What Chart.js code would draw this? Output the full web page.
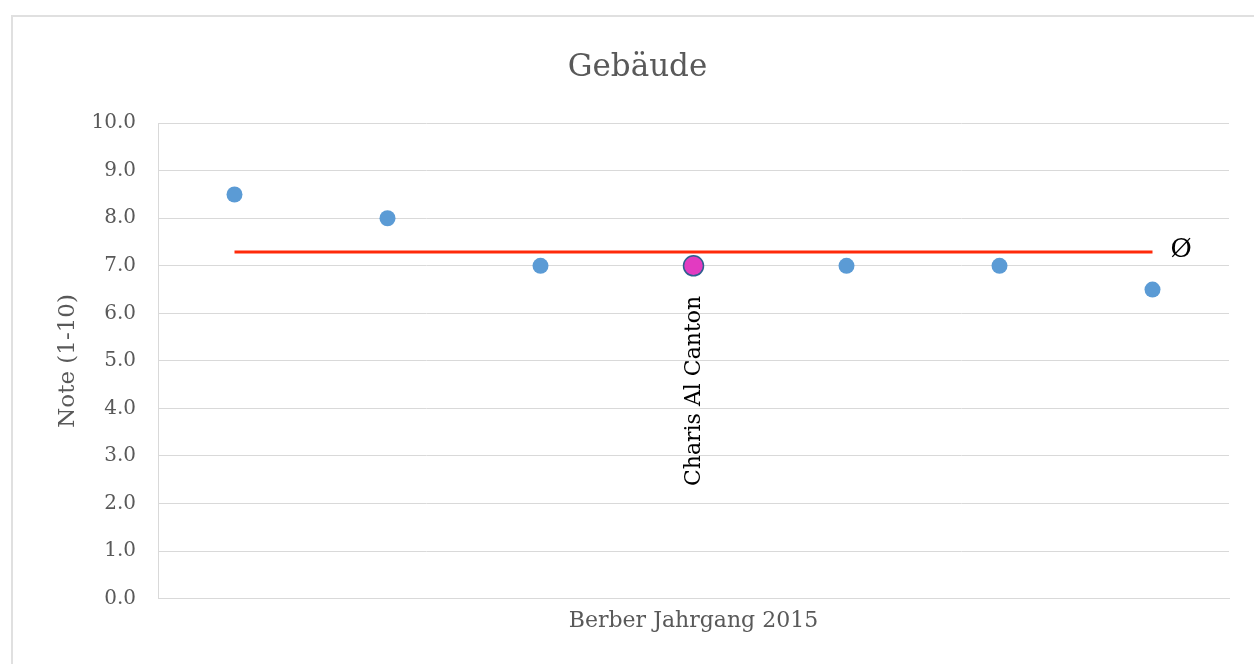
<!DOCTYPE html>
<html>
<head>
<meta charset="utf-8">
<script src="https://cdn.jsdelivr.net/npm/chart.js@4/dist/chart.umd.min.js"></script>
<style>
  html, body { margin: 0; padding: 0; background: #ffffff; }
  #wrap { position: relative; width: 1254px; height: 664px; overflow: hidden; }
  #frame { position: absolute; left: 11px; top: 15px; width: 1300px; height: 700px; border: 2px solid #e0e0e0; box-sizing: border-box; }
  canvas { position: absolute; left: 0; top: 0; }
</style>
</head>
<body>
<div id="wrap">
  <div id="frame"></div>
  <canvas id="c" width="1254" height="664"></canvas>
</div>
<script>
// ---- data ----
const chartTitle = "Gebäude";
const categories = ["S1", "S2", "S3", "Charis Al Canton", "S5", "S6", "S7"];
const highlightName = "Charis Al Canton";
const grades = [8.5, 8.0, 7.0, 7.0, 7.0, 7.0, 6.5];
const averageLine = [7.29, 7.29, 7.29, 7.29, 7.29, 7.29, 7.29];
const averageSymbol = "Ø";
const yTickValues = [0, 1, 2, 3, 4, 5, 6, 7, 8, 9, 10];
const yAxisTitle = "Note (1-10)";
const xAxisTitle = "Berber Jahrgang 2015";

const FONT = "'DejaVu Serif', serif";
const GREY = "#595959";

const isHi = (ctx) => categories[ctx.dataIndex] === highlightName;

const labelPlugin = {
  id: 'labels',
  afterDatasetsDraw(chart) {
    const ctx = chart.ctx;
    const xs = chart.scales.x, ys = chart.scales.y;
    const hi = categories.indexOf(highlightName);
    if (hi >= 0) {
      const px = xs.getPixelForValue(hi);
      const py = ys.getPixelForValue(grades[hi]);
      ctx.save();
      ctx.translate(px + 1, py + 30);
      ctx.rotate(-Math.PI / 2);
      ctx.font = "22px " + FONT;
      ctx.fillStyle = "#000000";
      ctx.textAlign = "right";
      ctx.textBaseline = "middle";
      ctx.fillText(highlightName, 0, 0);
      ctx.restore();
    }
    const last = averageLine.length - 1;
    const lx = xs.getPixelForValue(last);
    const ly = ys.getPixelForValue(averageLine[last]);
    ctx.save();
    ctx.font = "26px " + FONT;
    ctx.fillStyle = "#000000";
    ctx.textAlign = "left";
    ctx.textBaseline = "middle";
    ctx.fillText(averageSymbol, lx + 18, ly - 2);
    ctx.restore();
  }
};

new Chart(document.getElementById('c'), {
  type: 'line',
  data: {
    labels: categories,
    datasets: [
      {
        label: 'Durchschnitt',
        data: averageLine,
        borderColor: '#FF2A0A',
        borderWidth: 3,
        pointRadius: 0,
        fill: false,
        order: 0
      },
      {
        label: 'Note',
        data: grades,
        showLine: false,
        pointRadius: (c) => isHi(c) ? 10 : 8,
        pointBackgroundColor: (c) => isHi(c) ? '#E23BC1' : '#5B9BD5',
        pointBorderColor: (c) => isHi(c) ? '#2F5F8F' : '#5B9BD5',
        pointBorderWidth: (c) => isHi(c) ? 1.5 : 0,
        order: 1
      }
    ]
  },
  options: {
    responsive: false,
    animation: false,
    layout: { padding: { left: 46, right: 25, top: 0, bottom: 20 } },
    plugins: {
      legend: { display: false },
      tooltip: { enabled: false },
      title: {
        display: true,
        text: chartTitle,
        color: GREY,
        font: { family: FONT, size: 31, weight: 'normal' },
        padding: { top: 49, bottom: 37 }
      }
    },
    scales: {
      x: {
        type: 'category',
        offset: true,
        grid: { display: false, drawTicks: false },
        border: { display: true, color: '#d9d9d9', width: 1 },
        ticks: { display: false },
        title: {
          display: true,
          text: xAxisTitle,
          color: GREY,
          font: { family: FONT, size: 22 },
          padding: { top: 9, bottom: 10 }
        }
      },
      y: {
        min: 0,
        max: 10,
        afterBuildTicks: (s) => { s.ticks = yTickValues.map(v => ({ value: v })); },
        afterFit: (s) => { s.width = 112; },
        grid: { color: '#d9d9d9', lineWidth: 1, drawTicks: false },
        border: { display: true, color: '#d9d9d9', width: 1 },
        ticks: {
          color: GREY,
          padding: 22,
          font: { family: FONT, size: 20 },
          callback: (v) => Number(v).toFixed(1)
        },
        title: {
          display: true,
          text: yAxisTitle,
          color: GREY,
          font: { family: FONT, size: 23 },
          padding: { top: 8, bottom: 0 }
        }
      }
    }
  },
  plugins: [labelPlugin]
});
</script>
</body>
</html>
